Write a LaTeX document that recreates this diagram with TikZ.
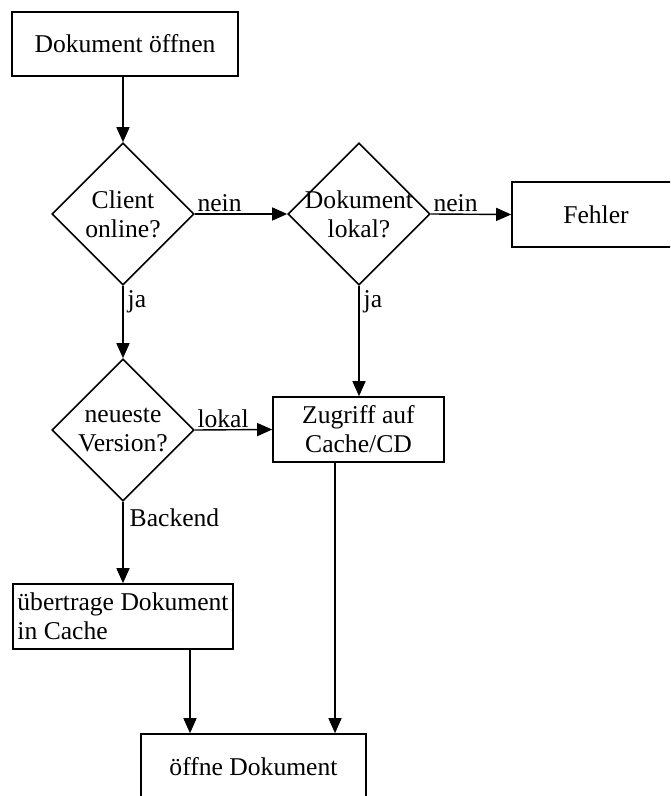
\documentclass[tikz,border=0pt]{standalone}
\usepackage{fontspec}
\setmainfont{Liberation Serif}
\usetikzlibrary{shapes,arrows}
\usetikzlibrary{shapes.geometric}
\usetikzlibrary{positioning}
\usetikzlibrary{calc}
\usetikzlibrary{arrows.meta}
\tikzset{>={Triangle[length=7.5pt,width=6.5pt]}}
\tikzstyle{line} = [draw, 
->, 
line width=0.7pt]
\begin{document}
\begin{tikzpicture}[x=0.5pt, y=-0.5pt,
		every node/.style={font=\fontsize{12.8}{14.5}\selectfont},
		box/.style={draw, rectangle, line width=0.8pt, inner sep=0pt},
		rhomb/.style={draw, diamond, line width=0.8pt, inner sep=-12pt,
			minimum width=71pt, minimum height=71pt, align=center, aspect=1}]
		\useasboundingbox (0,0) rectangle (670,796);
		\clip (0,0) rectangle (670,796);
		%% States
		\node [box, minimum width=113pt, minimum height=32pt] at (125,44) (open) {Dokument öffnen};
		\node [rhomb] at (123,214) (online) {Client\\online?};
		\node [rhomb] at (359,214) (local) {Dokument\\lokal?};
		\node [box, minimum width=84pt, minimum height=32.5pt] at (596,214.5) (error) {Fehler};
		\node [rhomb] at (123,430) (newest) {neueste\\Version?};
		\node [box, minimum width=85.5pt, minimum height=32.5pt, align=center] at (358.5,429.5) (access) {Zugriff auf\\Cache/CD};
		\node [box, minimum width=110pt, minimum height=32.5pt, align=left] at (123,616.5) (transfer) {übertrage Dokument\\in Cache};
		\node [box, minimum width=112.5pt, minimum height=32.5pt] at (253.5,766.5) (show) {öffne Dokument};
		%% Flows
		\path [line] (online.north |- open.south) -- (online.north);
		\path [line] (online.east) to node [pos=0, above right, inner sep=1pt] {nein} (local.west);
		\path [line] (local.east) to node [pos=0, above right, inner sep=1pt] {nein} (error.west);
		\path [line] (online.south) to node [pos=0, below right, inner sep=2pt] {ja} (newest.north);
		\path [line] (local.south) to node [pos=0, below right, inner sep=2pt] {ja} (local.south |- access.north);
		\path [line] (newest.east) to node [pos=0, above right, inner sep=1pt] {lokal} (access.west);
		\path [line] (newest.south) to node [pos=0, below right, inner sep=3pt] {Backend} (transfer.north);
		\path [line] (190,0 |- transfer.south) -- (190,0 |- show.north);
		\path [line] (335,0 |- access.south) -- (335,0 |- show.north);
	\end{tikzpicture}
\end{document}
